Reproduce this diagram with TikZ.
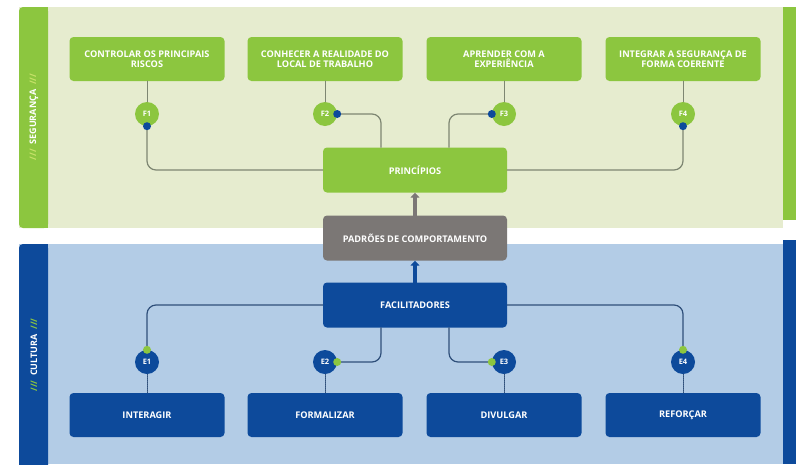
\documentclass[tikz,border=0pt]{standalone}
\usepackage{fontspec}
\setmainfont{Open Sans}
\usetikzlibrary{arrows.meta}
\definecolor{verde}{HTML}{8CC63F}
\definecolor{verdeclaro}{HTML}{E6ECCF}
\definecolor{verdelima}{HTML}{C8E26A}
\definecolor{azul}{HTML}{0D4A9B}
\definecolor{azulclaro}{HTML}{B3CCE6}
\definecolor{cinza}{HTML}{7B7775}
\definecolor{linha}{HTML}{7E8672}
\definecolor{linhaazul}{HTML}{2F4F7A}
\begin{document}
\begin{tikzpicture}[x=1pt,y=-1pt,line join=round,line cap=round,
	caixa/.style={rounded corners=4pt,minimum width=155pt,minimum height=44pt,align=center,text=white,font=\fontsize{9.2}{9.5}\selectfont\bfseries},
	circ/.style={circle,minimum size=24pt,inner sep=0pt,text=white,font=\fontsize{7.5}{8}\selectfont\bfseries},
	liga/.style={draw=linha,line width=1.2pt,rounded corners=9pt},
	ligab/.style={draw=linhaazul,line width=1.2pt,rounded corners=9pt},
	seta/.style={line width=3.5pt,-{Triangle[length=5pt,width=9pt]}}]
	\useasboundingbox (0,0) rectangle (796,464);
	% faixas de fundo
	\fill[verdeclaro] (19,7) rectangle (783,228);
	\fill[verde,rounded corners=4pt] (19,7) rectangle (48,228);
	\fill[verde] (40,7) rectangle (48,228);
	\fill[verde] (783,7) rectangle (796,220);
	\fill[azulclaro] (19,244) rectangle (783,464);
	\fill[azul,rounded corners=4pt] (19,244) rectangle (48,470);
	\fill[azul] (40,244) rectangle (48,464);
	\fill[azul] (783,240) rectangle (796,464);
	\node[rotate=90,text=white,font=\fontsize{9}{10}\selectfont\bfseries] (seg) at (34,117) {\textcolor{verdelima}{///}\ \ SEGURANÇA\ \ \textcolor{verdelima}{///}};
	\node[rotate=90,text=white,font=\fontsize{9}{10}\selectfont\bfseries] (cul) at (34,355) {\textcolor{verde}{///}\ \ CULTURA\ \ \textcolor{verde}{///}};
	% principios
	\node[caixa,fill=verde] (b1) at (147,59) {CONTROLAR OS PRINCIPAIS\\RISCOS};
	\node[caixa,fill=verde] (b2) at (325,59) {CONHECER A REALIDADE DO\\LOCAL DE TRABALHO};
	\node[caixa,fill=verde] (b3) at (504,59) {APRENDER COM A\\EXPERIÊNCIA};
	\node[caixa,fill=verde] (b4) at (683,59) {INTEGRAR A SEGURANÇA DE\\FORMA COERENTE};
	\node[circ,fill=verde] (f1) at (147,114) {F1};
	\node[circ,fill=verde] (f2) at (325,114) {F2};
	\node[circ,fill=verde] (f3) at (504,114) {F3};
	\node[circ,fill=verde] (f4) at (683,114) {F4};
	\node[caixa,fill=verde,minimum width=184pt,minimum height=45pt] (prin) at (415,170) {PRINCÍPIOS};
	\node[caixa,fill=cinza,minimum width=184pt,minimum height=45pt] (pad) at (415,238) {PADRÕES DE COMPORTAMENTO};
	\node[caixa,fill=azul,minimum width=184pt,minimum height=45pt] (fac) at (415,305) {FACILITADORES};
	\foreach \i in {1,...,4} \draw[linha,line width=1pt] (b\i) -- (f\i);
	\draw[liga] (f1.south) |- (prin.west);
	\draw[liga] (f2.east) -| ([xshift=-34pt]prin.north);
	\draw[liga] (f3.west) -| ([xshift=34pt]prin.north);
	\draw[liga] (f4.south) |- (prin.east);
	\fill[azul] (f1.south) circle (4pt) (f2.east) circle (4pt) (f3.west) circle (4pt) (f4.south) circle (4pt);
	\draw[seta,cinza] (pad.north) -- (prin.south);
	\draw[seta,azul] (fac.north) -- (pad.south);
	% facilitadores
	\node[caixa,fill=azul] (c1) at (147,415) {INTERAGIR};
	\node[caixa,fill=azul] (c2) at (325,415) {FORMALIZAR};
	\node[caixa,fill=azul] (c3) at (504,415) {DIVULGAR};
	\node[caixa,fill=azul] (c4) at (683,415) {REFORÇAR};
	\node[circ,fill=azul] (e1) at (147,362) {E1};
	\node[circ,fill=azul] (e2) at (325,362) {E2};
	\node[circ,fill=azul] (e3) at (504,362) {E3};
	\node[circ,fill=azul] (e4) at (683,362) {E4};
	\foreach \i in {1,...,4} \draw[linhaazul,line width=1pt,densely dotted] (e\i) -- (c\i);
	\draw[ligab] (fac.west) -| (e1.north);
	\draw[ligab] ([xshift=-34pt]fac.south) |- (e2.east);
	\draw[ligab] ([xshift=34pt]fac.south) |- (e3.west);
	\draw[ligab] (fac.east) -| (e4.north);
	\fill[verde] (e1.north) circle (4pt) (e2.east) circle (4pt) (e3.west) circle (4pt) (e4.north) circle (4pt);
\end{tikzpicture}
\end{document}
